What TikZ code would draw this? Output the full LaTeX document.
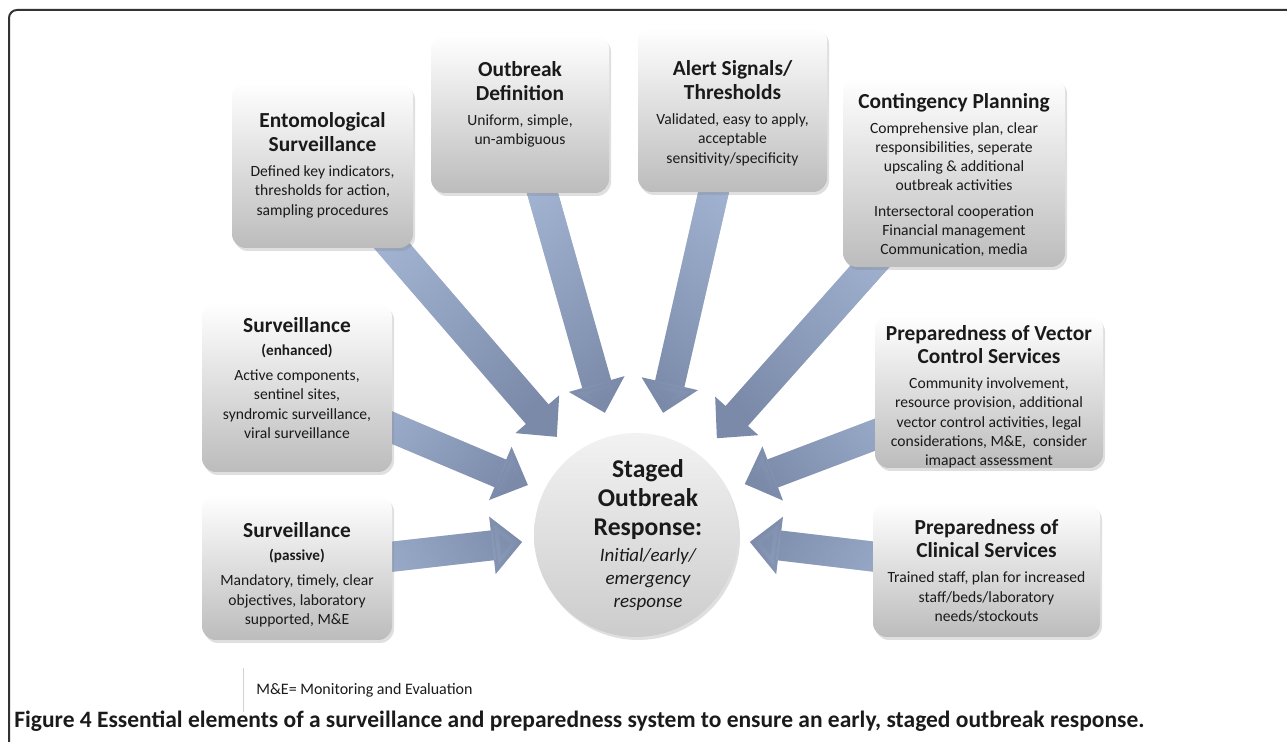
\documentclass[tikz,border=0pt]{standalone}
\usepackage{fontspec}
\setmainfont{Carlito}
\usetikzlibrary{arrows.meta,shadows,backgrounds,calc,fadings}

\definecolor{ink}{HTML}{1A1A1A}
\definecolor{panelbot}{HTML}{BCBCBC}
\definecolor{hubtop}{HTML}{F2F2F2}
\definecolor{hubbot}{HTML}{CCCCCC}
\definecolor{flowdark}{HTML}{7A8AA8}
\definecolor{flowpale}{HTML}{AEBFDE}
\definecolor{framegray}{HTML}{333333}

\newcommand{\ttl}{\fontsize{10.7}{11.8}\selectfont\bfseries}
\newcommand{\sml}{\fontsize{7.6}{9}\selectfont\bfseries}
\newcommand{\bdy}{\fontsize{7.8}{9.6}\selectfont}
\newcommand{\hubttl}{\fontsize{12.8}{14.4}\selectfont\bfseries}
\newcommand{\hubit}{\fontsize{9.5}{11.4}\selectfont\itshape}
\newcommand{\panelbody}[5]{\begin{minipage}[c][#2][t]{#1}\centering\vspace*{#3}{\ttl #4\par}\vspace{3pt}{\bdy #5\par}\end{minipage}}

\tikzset{
  panel/.style={rounded corners=7pt, top color=white, bottom color=panelbot, inner sep=0pt,
    drop shadow={opacity=0.25, shadow xshift=1pt, shadow yshift=-1.5pt}},
  hub/.style={circle, inner sep=0pt, minimum size=102pt, top color=hubtop, bottom color=hubbot,
    drop shadow={opacity=0.25, shadow xshift=1pt, shadow yshift=-1.5pt}},
  flowarrow/.style={flowdark, line width=15pt, -{Triangle[width=28pt,length=15pt]}},
  flowlight/.style={flowarrow, flowpale, path fading=east, fading angle=#1},
  outerframe/.style={framegray, line width=1pt, rounded corners=4pt},
}

\begin{document}
\begin{tikzpicture}[x=0.5pt, y=0.5pt, text=ink, font=\bdy]
\useasboundingbox (0,0) rectangle (1287,742);
\draw[outerframe] (9,0) -- (9,732) -- (1287,732);

\node[panel] (ento) at (322.5,576.5) {\panelbody{90.5pt}{82.5pt}{15pt}{Entomological\\ Surveillance}{Defined key indicators,\\ thresholds for action,\\ sampling procedures}};
\node[panel] (outdef) at (520,628) {\panelbody{89pt}{79pt}{13.5pt}{Outbreak\\ Definition}{Uniform, simple,\\ un-ambiguous}};
\node[panel] (alert) at (732.5,632.5) {\panelbody{94.5pt}{82.5pt}{17pt}{Alert Signals/\\ Thresholds}{Validated, easy to apply,\\ acceptable\\ sensitivity/specificity}};
\node[panel] (contplan) at (954,570) {\panelbody{111pt}{95pt}{8pt}{Contingency Planning}{Comprehensive plan, clear\\ responsibilities, seperate\\ upscaling \& additional\\ outbreak activities\par\vspace{3pt}Intersectoral cooperation\\ Financial management\\ Communication, media}};
\node[panel] (survenh) at (297,354.5) {\panelbody{95pt}{84.5pt}{7pt}{Surveillance\\ {\sml (enhanced)}}{Active components,\\ sentinel sites,\\ syndromic surveillance,\\ viral surveillance}};
\node[panel] (survpas) at (297,174.5) {\panelbody{95pt}{72.5pt}{13.5pt}{Surveillance\\ {\sml (passive)}}{Mandatory, timely, clear\\ objectives, laboratory\\ supported, M\&E}};
\node[panel] (vector) at (989,350.5) {\panelbody{114pt}{76.5pt}{5pt}{Preparedness of Vector\\ Control Services}{Community involvement,\\ resource provision, additional\\ vector control activities, legal\\ considerations, M\&E,~ consider\\ imapact assessment}};
\node[panel] (clinic) at (986.5,172) {\panelbody{113.5pt}{67pt}{8pt}{Preparedness of\\ Clinical Services}{Trained staff, plan for increased\\ staff/beds/laboratory\\ needs/stockouts}};

\node[hub] (resp) at (636,207) {};
\node (resptext) at ($(resp)+(12,0)$) {\begin{minipage}{62pt}\centering{\hubttl Staged\\ Outbreak\\ Response:\par}\vspace{2pt}{\hubit Initial/early/\\ emergency\\ response\par}\end{minipage}};

\coordinate (tipE) at ($(resp)+(128.9:126)$);
\coordinate (tipO) at ($(resp)+(104.3:126)$);
\coordinate (tipA) at ($(resp)+(77.5:125)$);
\coordinate (tipC) at ($(resp)+(50.1:126)$);
\coordinate (tipEn) at ($(resp)+(155.2:119)$);
\coordinate (tipP) at ($(resp)+(183.5:114)$);
\coordinate (tipV) at ($(resp)+(25.1:120)$);
\coordinate (tipCl) at ($(resp)+(-3.5:114)$);

\begin{scope}[on background layer]
  \draw[flowarrow] (ento.center) -- (tipE);
  \draw[flowlight=-49.2] (ento.center) -- (tipE);
  \draw[flowarrow] (outdef.center) -- (tipO);
  \draw[flowlight=-74.1] (outdef.center) -- (tipO);
  \draw[flowarrow] (alert.center) -- (tipA);
  \draw[flowlight=-102.9] (alert.center) -- (tipA);
  \draw[flowarrow] (contplan.center) -- (tipC);
  \draw[flowlight=-131.7] (contplan.center) -- (tipC);
  \draw[flowarrow] (survenh.center) -- (tipEn);
  \draw[flowlight=-22.9] (survenh.center) -- (tipEn);
  \draw[flowarrow] (survpas.center) -- (tipP);
  \draw[flowlight=6.5] (survpas.center) -- (tipP);
  \draw[flowarrow] (vector.center) -- (tipV);
  \draw[flowlight=-159.2] (vector.center) -- (tipV);
  \draw[flowarrow] (clinic.center) -- (tipCl);
  \draw[flowlight=173.3] (clinic.center) -- (tipCl);
\end{scope}

\draw[gray!35, line width=0.5pt] (243,30) -- (243,74);
\node[anchor=base west, inner sep=0pt, font=\fontsize{8}{9.6}\selectfont] (note) at (256,47) {M\&E= Monitoring and Evaluation};
\node[anchor=base west, inner sep=0pt, font=\fontsize{11.75}{13}\selectfont\bfseries] (caption) at (14,14) {Figure 4 Essential elements of a surveillance and preparedness system to ensure an early, staged outbreak response.};
\end{tikzpicture}
\end{document}
